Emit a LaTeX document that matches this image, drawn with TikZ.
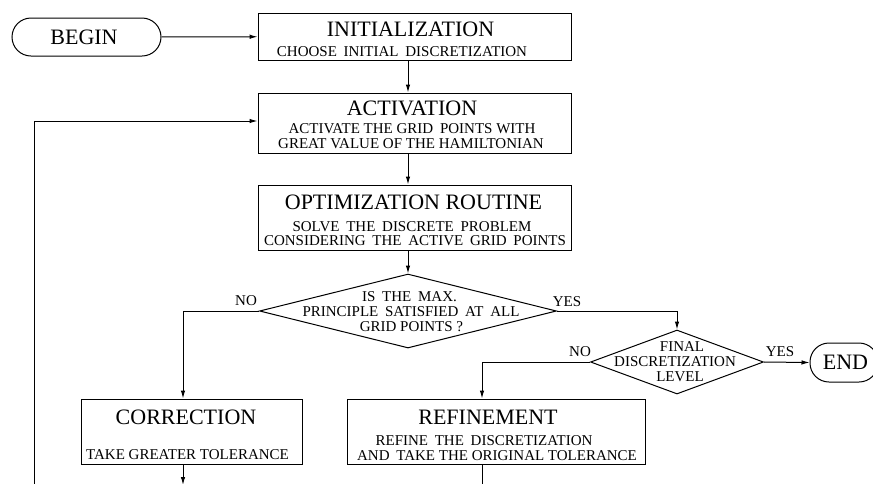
\documentclass[tikz,border=0pt]{standalone}
\usepackage{fontspec}
\setmainfont{Liberation Serif}
\usetikzlibrary{shapes.geometric,arrows.meta}

% wide inter-word gap used in several lines
\newcommand{\wsp}{\hspace{0.45em}}

\tikzset{
  box/.style={draw, line width=1pt, rectangle, inner sep=0pt},
  term/.style={draw, line width=1pt, rectangle, rounded corners=19pt, inner sep=0pt},
  decision/.style={draw, line width=1pt, diamond, inner sep=0pt},
  title/.style={inner sep=0pt, font=\fontsize{22}{24}\selectfont},
  sub/.style={inner sep=0pt, font=\fontsize{15}{16}\selectfont},
  lbl/.style={inner sep=0pt, font=\fontsize{15}{16}\selectfont},
  flow/.style={line width=1pt, -{Latex[length=8pt,width=4.5pt]}},
  wire/.style={line width=1pt},
}

\begin{document}
\begin{tikzpicture}[x=1pt, y=-1pt]
\useasboundingbox (0,0) rectangle (873,483);
\clip (0,0) rectangle (873,483);

% terminals
\node[term, minimum width=149pt, minimum height=38pt] (begin) at (86.5,37) {};
\node[title] (begin-t) at (84,37) {BEGIN};
\node[term, minimum width=68pt, minimum height=39pt] (end) at (844,362.5) {};
\node[title] (end-t) at (845.5,362) {END};

% process boxes
\node[box, minimum width=313pt, minimum height=47pt] (init) at (414.5,36.5) {};
\node[title] (init-t) at (410.5,29) {INITIALIZATION};
\node[sub] (init-s) at (402,51.5) {CHOOSE\wsp INITIAL\wsp DISCRETIZATION};

\node[box, minimum width=313pt, minimum height=60pt] (act) at (414.5,123) {};
\node[title] (act-t) at (412,108) {ACTIVATION};
\node[sub] (act-s1) at (412,129) {ACTIVATE THE GRID\wsp POINTS WITH};
\node[sub] (act-s2) at (411,144) {GREAT VALUE OF THE HAMILTONIAN};

\node[box, minimum width=313pt, minimum height=65pt] (opt) at (414.5,217.5) {};
\node[title] (opt-t) at (413.5,202) {OPTIMIZATION ROUTINE};
\node[sub] (opt-s1) at (412,227) {SOLVE\wsp THE\wsp DISCRETE\wsp PROBLEM};
\node[sub] (opt-s2) at (415,241) {CONSIDERING\wsp THE\wsp ACTIVE\wsp GRID\wsp POINTS};

\node[box, minimum width=221pt, minimum height=65pt] (corr) at (191.5,431.5) {};
\node[title] (corr-t) at (186,417) {CORRECTION};
\node[sub] (corr-s) at (187.5,455) {TAKE GREATER TOLERANCE};

\node[box, minimum width=298pt, minimum height=65pt] (refi) at (496,431.5) {};
\node[title] (refi-t) at (488,417) {REFINEMENT};
\node[sub] (refi-s1) at (484,441) {REFINE\wsp THE\wsp DISCRETIZATION};
\node[sub] (refi-s2) at (497,456) {AND\wsp TAKE THE ORIGINAL TOLERANCE};

% decisions
\node[decision, minimum width=297pt, minimum height=74pt] (d1) at (408,311) {};
\node[sub] (d1-a) at (409.5,297) {IS\wsp THE\wsp MAX.};
\node[sub] (d1-b) at (411,312) {PRINCIPLE\wsp SATISFIED\wsp AT\wsp ALL};
\node[sub] (d1-c) at (411.5,326.5) {GRID POINTS ?};

\node[decision, minimum width=173pt, minimum height=64pt] (d2) at (677,362) {};
\node[sub] (d2-a) at (682,347) {FINAL};
\node[sub] (d2-b) at (675,362) {DISCRETIZATION};
\node[sub] (d2-c) at (680,377) {LEVEL};

% branch labels
\node[lbl] (no1) at (246,301) {NO};
\node[lbl] (yes1) at (567,302) {YES};
\node[lbl] (no2) at (580,352) {NO};
\node[lbl] (yes2) at (780,352) {YES};

% loose ends leaving the lower edge
\coordinate (corr-out) at (183,485);
\coordinate (refi-out) at (482,490);
\coordinate (loop) at (34,490);

% connectors
\draw[flow] (begin) -- (init);
\draw[flow] (init.south -| d1.north) -- (act.north -| d1.north);
\draw[flow] (act.south -| d1.north) -- (opt.north -| d1.north);
\draw[flow] (opt.south -| d1.north) -- (d1.north);
\draw[flow] (d1.west) -| (corr.north -| corr-out);
\draw[flow] (d1.east) -| (d2.north);
\draw[flow] (d2.east) -- (end.west);
\draw[flow] (d2.west) -| (refi.north -| refi-out);
\draw[flow] (corr.south -| corr-out) -- (corr-out);
\draw[wire] (refi.south -| refi-out) -- (refi-out);
\draw[flow] (loop) |- ([yshift=2pt]act.west);
\end{tikzpicture}
\end{document}
